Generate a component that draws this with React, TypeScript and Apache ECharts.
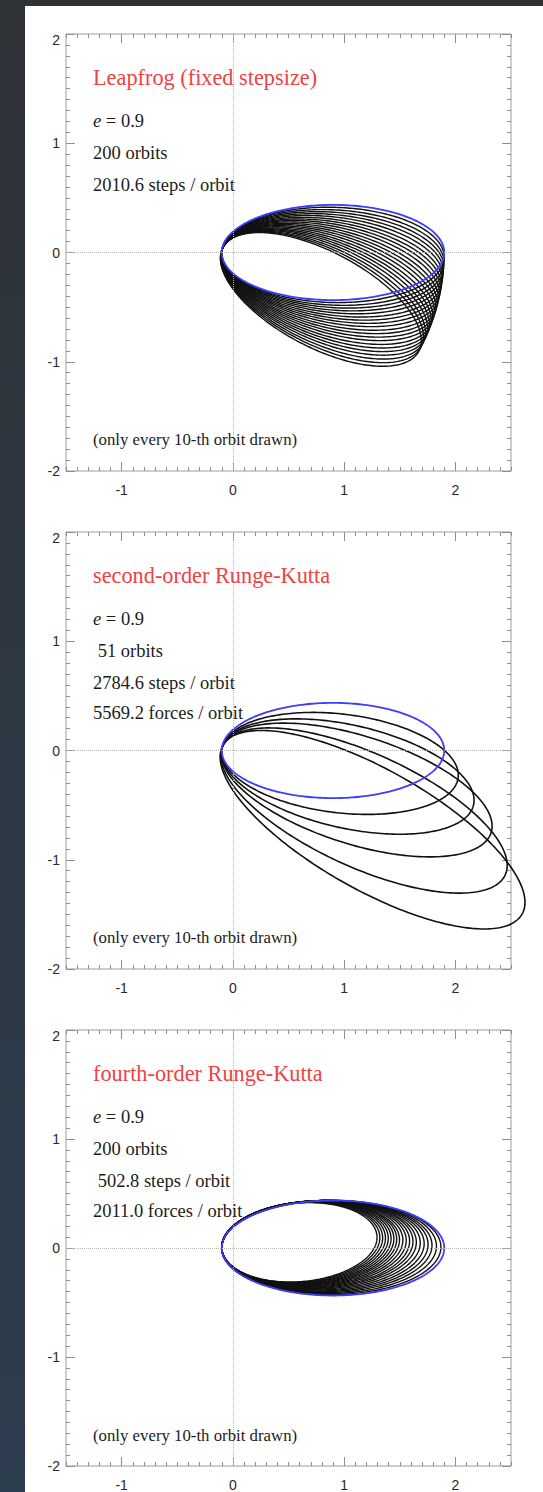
import React, { useEffect, useRef } from "react";
import * as echarts from "echarts";

// ---------- tick labels / texts ----------
const xMajorTicks = [-1, 0, 1, 2];
const panelTitles = [
  "Leapfrog (fixed stepsize)",
  "second-order Runge-Kutta",
  "fourth-order Runge-Kutta",
];
const panelStats = [
  ["{i|e} = 0.9", "200 orbits", "2010.6 steps / orbit"],
  ["{i|e} = 0.9", " 51 orbits", "2784.6 steps / orbit", "5569.2 forces / orbit"],
  ["{i|e} = 0.9", "200 orbits", " 502.8 steps / orbit", "2011.0 forces / orbit"],
];
const footnote = "(only every 10-th orbit drawn)";

// ---------- orbital elements ----------
// first orbit (blue) of every panel: pericentre / apocentre distance from the focus at the origin
const initialPericentre = 0.1;
const initialApocentre = 1.9;

// leapfrog: orbits 10, 20, ... 200 (pericentre stays 0.1)
const leapfrogApocentre = [
  1.9, 1.9, 1.9, 1.9, 1.9, 1.9, 1.9, 1.9, 1.9, 1.9,
  1.9, 1.9, 1.9, 1.9, 1.9, 1.9, 1.9, 1.9, 1.9, 1.9,
];
// orientation of the major axis in degrees (negative = clockwise)
const leapfrogRotation = [
  -1.4, -2.9, -4.3, -5.7, -7.1, -8.6, -10.0, -11.4, -12.8, -14.3,
  -15.7, -17.1, -18.5, -20.0, -21.4, -22.8, -24.2, -25.7, -27.1, -28.5,
];

// second-order Runge-Kutta: orbits 10, 20, 30, 40, 50
const rk2Apocentre = [2.04, 2.22, 2.44, 2.7, 3.0];
const rk2Rotation = [-7, -13, -18, -25, -30];

// fourth-order Runge-Kutta: orbits 10, 20, ... 200
const rk4Apocentre = [
  1.87, 1.83, 1.79, 1.755, 1.72, 1.685, 1.65, 1.62, 1.59, 1.56,
  1.53, 1.5, 1.475, 1.45, 1.425, 1.4, 1.375, 1.35, 1.325, 1.3,
];
const rk4Rotation = [
  0.3, 0.6, 0.9, 1.2, 1.5, 1.8, 2.1, 2.4, 2.6, 2.9,
  3.1, 3.3, 3.6, 3.8, 4.0, 4.2, 4.4, 4.6, 4.8, 5.0,
];

// ---------- layout ----------
const GRID_LEFT = 66;
const GRID_W = 445;
const GRID_H = 437;
const PANEL_TOPS = [34, 532, 1030];
const TEXT_X = 93;
const TEXT_ROWS = [86.5, 118.5, 150.5, 181];
const TITLE_ROW = 43;
const FOOT_ROW = 405;

const TICK_COLOR = "#8e8e8e";
const LABEL_COLOR = "#2a2a2a";
const BLUE = "#3d3dff";

function keplerEllipse(q: number, Q: number, rotDeg: number) {
  const a = (q + Q) / 2;
  const e = (Q - q) / (Q + q);
  const b = a * Math.sqrt(1 - e * e);
  const phi = (rotDeg * Math.PI) / 180;
  const c = Math.cos(phi);
  const s = Math.sin(phi);
  const pts: number[][] = [];
  const N = 260;
  for (let i = 0; i <= N; i++) {
    const E = (2 * Math.PI * i) / N;
    const x = a * (e - Math.cos(E));
    const y = b * Math.sin(E);
    pts.push([x * c - y * s, x * s + y * c]);
  }
  return pts;
}

function buildOption() {
  const grid = PANEL_TOPS.map((top) => ({
    left: GRID_LEFT,
    top,
    width: GRID_W,
    height: GRID_H,
    show: true,
    borderColor: "#9c9c9c",
    borderWidth: 1,
    backgroundColor: "transparent",
  }));

  const xAxis: any[] = [];
  const yAxis: any[] = [];
  PANEL_TOPS.forEach((_, g) => {
    const base = {
      type: "value",
      gridIndex: g,
      min: -1.5,
      max: 2.5,
      axisLine: { show: false, onZero: false },
      splitLine: { show: false },
    };
    const major = (position: string, labels: boolean) => ({
      ...base,
      position,
      interval: 0.5,
      axisTick: {
        show: true,
        inside: true,
        length: 9,
        customValues: xMajorTicks,
        lineStyle: { color: TICK_COLOR },
      },
      axisLabel: {
        show: labels,
        customValues: xMajorTicks,
        margin: 12,
        color: LABEL_COLOR,
        fontSize: 14,
        fontFamily: "Liberation Sans",
      },
    });
    const minor = (position: string) => ({
      ...base,
      position,
      interval: 0.1,
      axisTick: {
        show: true,
        inside: true,
        length: 4,
        lineStyle: { color: TICK_COLOR },
      },
      axisLabel: { show: false },
    });
    xAxis.push(major("bottom", true), minor("bottom"), major("top", false), minor("top"));

    const yBase = (position: string, labels: boolean) => ({
      type: "value",
      gridIndex: g,
      position,
      min: -2,
      max: 2,
      interval: 1,
      axisLine: { show: false, onZero: false },
      splitLine: { show: false },
      axisTick: {
        show: true,
        inside: true,
        length: 9,
        lineStyle: { color: TICK_COLOR },
      },
      minorTick: {
        show: true,
        splitNumber: 10,
        length: 4,
        lineStyle: { color: TICK_COLOR },
      },
      axisLabel: {
        show: labels,
        margin: 6,
        color: LABEL_COLOR,
        fontSize: 14,
        fontFamily: "Liberation Sans",
        formatter: (v: number) => (v === 2 ? `{lo|${v}}` : `${v}`),
        rich: {
          lo: {
            padding: [12, 0, 0, 0],
            color: LABEL_COLOR,
            fontSize: 14,
            fontFamily: "Liberation Sans",
          },
        },
      },
    });
    yAxis.push(yBase("left", true), yBase("right", false));
  });

  const series: any[] = [];
  const orbitSeries = (g: number, data: number[][], color: string, width: number) => ({
    type: "lines",
    coordinateSystem: "cartesian2d",
    xAxisIndex: 4 * g,
    yAxisIndex: 2 * g,
    polyline: true,
    clip: false,
    silent: true,
    large: false,
    effect: { show: false },
    data: [{ coords: data }],
    lineStyle: { color, width, opacity: 1, curveness: 0 },
    z: 3,
  });

  const panels = [
    { apo: leapfrogApocentre, rot: leapfrogRotation, width: 1.4 },
    { apo: rk2Apocentre, rot: rk2Rotation, width: 1.6 },
    { apo: rk4Apocentre, rot: rk4Rotation, width: 1.4 },
  ];

  panels.forEach((p, g) => {
    // dotted zero lines
    series.push({
      type: "line",
      xAxisIndex: 4 * g,
      yAxisIndex: 2 * g,
      data: [],
      silent: true,
      z: 1,
      markLine: {
        silent: true,
        symbol: ["none", "none"],
        label: { show: false },
        lineStyle: { color: "#b4b4b4", type: "dotted", width: 1 },
        data: [{ xAxis: 0 }, { yAxis: 0 }],
      },
    });
    p.apo.forEach((Q, k) => {
      series.push(orbitSeries(g, keplerEllipse(initialPericentre, Q, p.rot[k]), "#111", p.width));
    });
    series.push(orbitSeries(g, keplerEllipse(initialPericentre, initialApocentre, 0), BLUE, 1.8));
  });

  const graphic: any[] = [];
  PANEL_TOPS.forEach((top, g) => {
    graphic.push({
      type: "text",
      z: 100,
      silent: true,
      style: {
        text: panelTitles[g],
        x: TEXT_X,
        y: top + TITLE_ROW,
        verticalAlign: "middle",
        fill: "#ef4242",
        fontSize: 22.3,
        fontFamily: "Liberation Serif",
      },
    });
    panelStats[g].forEach((t, i) => {
      graphic.push({
        type: "text",
        z: 100,
        silent: true,
        style: {
          text: t,
          x: TEXT_X,
          y: top + TEXT_ROWS[i],
          verticalAlign: "middle",
          fill: "#1c1c1c",
          fontSize: 18.5,
          fontFamily: "Liberation Serif",
          rich: {
            i: {
              fontStyle: "italic",
              fontSize: 18.5,
              fontFamily: "Liberation Serif",
              fill: "#1c1c1c",
            },
          },
        },
      });
    });
    graphic.push({
      type: "text",
      z: 100,
      silent: true,
      style: {
        text: footnote,
        x: TEXT_X,
        y: top + FOOT_ROW,
        verticalAlign: "middle",
        fill: "#1c1c1c",
        fontSize: 16.8,
        fontFamily: "Liberation Serif",
      },
    });
  });

  return {
    animation: false,
    grid,
    xAxis,
    yAxis,
    series,
    graphic,
  };
}

export default function App() {
  const ref = useRef<HTMLDivElement>(null);
  useEffect(() => {
    document.body.style.margin = "0";
    const chart = echarts.init(ref.current!, null, { renderer: "svg" });
    chart.setOption(buildOption() as any);
    return () => chart.dispose();
  }, []);
  return (
    <div
      style={{
        width: 543,
        height: 1492,
        background:
          "linear-gradient(#ffffff, #ffffff) 25px 6px / 518px 1486px no-repeat, linear-gradient(#2f3237, #2c3d4f)",
      }}
    >
      <div ref={ref} style={{ width: 543, height: 1492 }} />
    </div>
  );
}
